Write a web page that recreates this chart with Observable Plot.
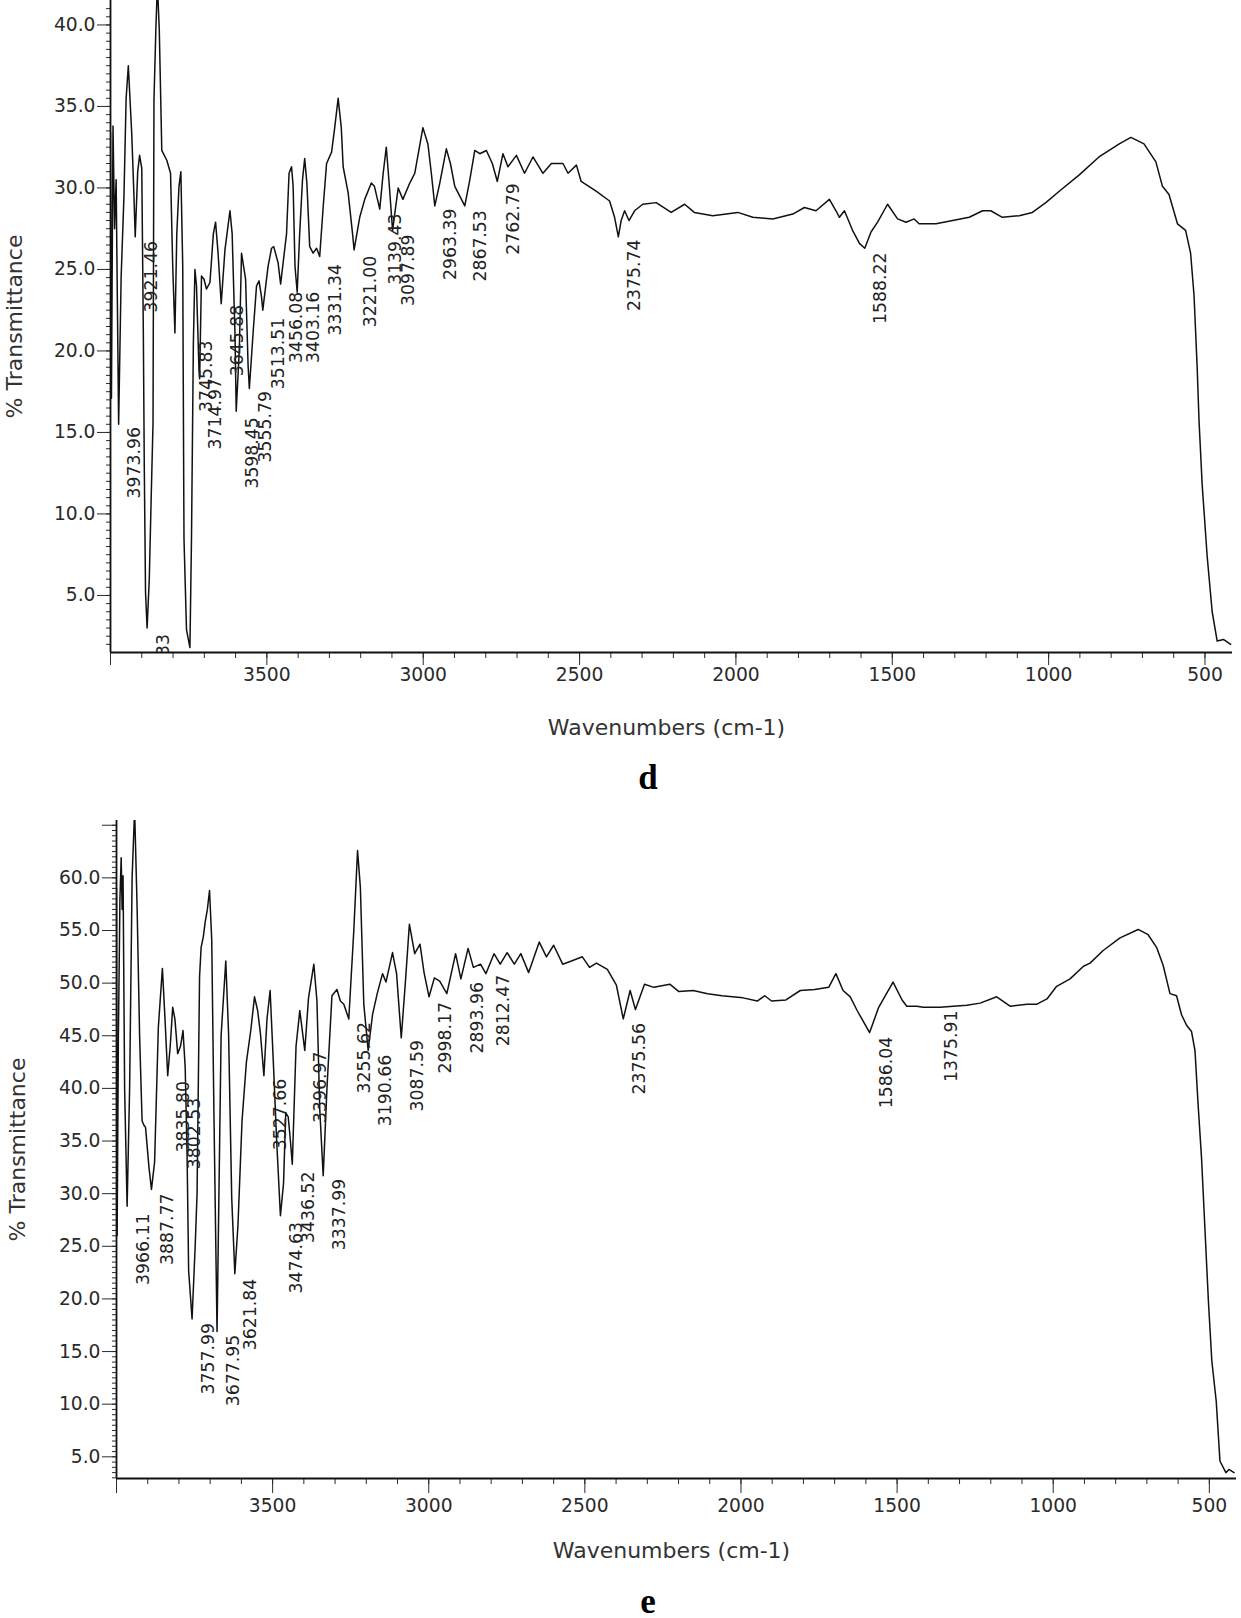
<!DOCTYPE html>
<html>
<head>
<meta charset="utf-8">
<script src="https://cdn.jsdelivr.net/npm/d3@7"></script>
<script src="https://cdn.jsdelivr.net/npm/@observablehq/plot@0.6"></script>
<style>
  html, body { margin: 0; padding: 0; background: #fff; }
  body { position: relative; width: 1241px; height: 1618px; overflow: hidden; }
  .panel { position: absolute; left: 0; }
  .tag { position: absolute; left: 598px; width: 100px; text-align: center;
         font-family: "Liberation Serif", "Times New Roman", serif; font-weight: bold;
         font-size: 35px; line-height: 28px; color: #000; }
</style>
</head>
<body>
<div id="panelD" class="panel" style="top:0px"></div>
<div class="tag" style="top:764px">d</div>
<div id="panelE" class="panel" style="top:800px"></div>
<div class="tag" style="top:1588px">e</div>
<script>
// ---------- axis ticks ----------
const xMajor = [4000, 3500, 3000, 2500, 2000, 1500, 1000, 500];
const xMinor = d3.range(500, 4000, 100);

// ---------- spectrum d ----------
const dWn = [4000,3997,3992,3987,3982,3974,3966,3957,3950,3943,3932,3925,3921,3913,3907,3900,3895,3892,3888,3883,
  3876,3870,3864,3861,3855,3850,3844,3836,3820,3808,3801,3794,3788,3781,3775,3769,3765,3757,3746,3741,
  3735,3730,3725,3717,3715,3709,3701,3693,3682,3671,3664,3656,3646,3634,3626,3618,3611,3602,3598,3588,
  3581,3568,3560,3556,3544,3533,3525,3517,3513,3496,3485,3478,3464,3456,3437,3429,3421,3416,3410,3403,
  3395,3386,3379,3372,3363,3352,3341,3331,3320,3309,3293,3283,3272,3262,3256,3240,3226,3221,3203,3187,
  3166,3156,3139,3128,3118,3109,3098,3080,3065,3043,3027,3001,2985,2974,2963,2947,2926,2913,2899,2883,
  2867,2851,2835,2819,2798,2779,2763,2745,2729,2702,2676,2649,2617,2590,2553,2537,2510,2495,2447,2404,
  2388,2376,2367,2356,2342,2324,2298,2255,2207,2164,2133,2074,1994,1946,1882,1818,1781,1744,1701,1680,
  1669,1653,1627,1605,1588,1568,1547,1515,1483,1456,1430,1414,1360,1307,1254,1211,1185,1148,1094,1052,
  1009,966,902,839,774,737,695,657,636,615,588,562,546,535,525,519,509,493,477,461,441,418];
const dT = [33.4,17.1,33.8,27.5,30.5,15.5,24.5,29.5,35.5,37.5,33.3,29.5,27.0,31.0,32.0,31.2,21.1,13.0,5.2,3.0,
  6.0,10.9,15.6,35.4,39.7,42.5,39.7,32.3,31.7,30.9,25.2,21.1,27.2,30.1,31.0,25.2,8.5,2.9,1.8,8.5,
  20.5,25.0,24.0,18.8,18.3,24.6,24.4,23.8,24.2,27.2,27.9,26.0,22.9,26.2,27.4,28.6,27.2,21.1,16.3,20.1,
  26.0,24.4,19.1,17.7,21.1,24.0,24.3,23.3,22.5,25.2,26.3,26.4,25.4,24.1,27.2,30.9,31.3,30.1,25.2,23.6,
  27.2,30.5,31.8,30.3,26.4,26.0,26.3,25.8,28.8,31.5,32.2,33.7,35.5,33.7,31.3,29.7,27.2,26.2,28.2,29.3,
  30.3,30.1,28.7,30.9,32.5,30.3,27.4,30.0,29.3,30.3,30.9,33.7,32.7,30.9,28.9,30.3,32.4,31.5,30.1,29.5,
  28.9,30.5,32.3,32.1,32.3,31.5,30.4,32.1,31.3,32.0,30.9,31.9,30.9,31.5,31.5,30.9,31.4,30.4,29.8,29.2,
  28.2,27.0,28.0,28.6,28.0,28.6,29.0,29.1,28.5,29.0,28.5,28.3,28.5,28.2,28.1,28.4,28.8,28.6,29.3,28.6,
  28.2,28.6,27.4,26.6,26.3,27.3,27.9,29.0,28.1,27.9,28.1,27.8,27.8,28.0,28.2,28.6,28.6,28.2,28.3,28.5,
  29.1,29.8,30.8,31.9,32.7,33.1,32.7,31.6,30.1,29.6,27.8,27.4,26.0,23.4,19.0,15.7,11.8,7.4,4.0,2.2,2.3,2.0];
const dLabels = ["3973.96","3921.46","3883.33","3745.83","3714.97","3645.88","3598.45","3555.79","3513.51","3456.08",
  "3403.16","3331.34","3221.00","3139.43","3097.89","2963.39","2867.53","2762.79","2375.74","1588.22"];
const dLabelT = [15.4,26.8,2.7,20.7,18.4,22.9,16.0,17.6,22.1,23.7,23.7,25.4,25.9,28.5,27.2,28.8,28.7,30.35,26.9,26.1];

// ---------- spectrum e ----------
const eWn = [4000,3998,3994,3989,3985,3982,3979,3974,3966,3958,3950,3942,3934,3926,3918,3912,3907,3896,3888,3878,
  3866,3853,3845,3836,3828,3820,3813,3804,3795,3787,3780,3774,3769,3758,3748,3742,3734,3729,3722,3716,
  3709,3702,3695,3688,3678,3665,3650,3641,3631,3621,3611,3598,3584,3570,3558,3548,3539,3528,3518,3508,
  3497,3487,3475,3465,3458,3450,3443,3437,3425,3413,3397,3385,3368,3358,3349,3338,3326,3310,3294,3283,
  3272,3256,3240,3228,3219,3208,3194,3180,3165,3148,3137,3116,3103,3088,3075,3062,3045,3028,3015,2999,
  2982,2965,2942,2914,2897,2874,2857,2834,2817,2791,2771,2749,2726,2705,2680,2646,2623,2600,2571,2543,
  2508,2485,2463,2428,2399,2377,2355,2338,2309,2279,2228,2199,2153,2107,2061,1993,1948,1924,1902,1856,
  1810,1764,1719,1696,1673,1650,1628,1588,1559,1513,1484,1469,1437,1416,1362,1320,1277,1234,1181,1137,
  1084,1052,1020,989,946,903,882,840,786,728,696,669,648,626,605,589,573,557,546,536,
  525,514,503,492,478,466,447,437,421];
const eT = [59.0,26.0,45.0,58.0,61.9,57.0,60.2,40.0,28.8,40.0,60.0,66.5,57.2,45.0,36.9,36.5,36.3,32.5,30.4,33.0,
  45.8,51.4,46.8,41.2,44.0,47.7,46.6,43.3,44.0,45.5,42.0,33.8,22.7,18.1,25.0,30.0,50.6,53.4,54.4,55.8,
  57.0,58.8,54.1,37.7,16.9,45.0,52.1,45.2,29.6,22.4,27.0,36.9,42.5,45.5,48.7,47.4,45.2,41.2,46.6,49.3,
  42.0,35.0,27.9,31.0,37.7,37.3,35.0,32.8,44.0,47.4,43.6,48.6,51.8,48.3,38.0,31.7,40.0,48.8,49.4,48.3,
  48.0,46.6,55.0,62.6,59.1,48.0,43.6,47.0,49.0,50.9,50.1,52.9,50.9,44.8,50.0,55.6,52.8,53.7,51.0,48.7,
  50.5,50.2,49.0,52.8,50.4,53.3,51.5,51.8,50.9,52.8,51.8,52.9,51.8,52.8,51.0,53.9,52.5,53.6,51.8,52.1,
  52.5,51.5,51.9,51.3,49.8,46.6,49.3,47.5,49.9,49.6,49.9,49.2,49.3,49.0,48.8,48.6,48.3,48.8,48.3,48.4,
  49.3,49.4,49.6,50.9,49.3,48.7,47.4,45.3,47.7,50.1,48.4,47.8,47.8,47.7,47.7,47.8,47.9,48.1,48.7,47.8,
  48.0,48.0,48.5,49.7,50.4,51.6,51.9,53.1,54.3,55.1,54.6,53.4,51.7,49.0,48.8,47.0,46.0,45.4,43.6,38.5,
  33.4,26.6,19.8,14.1,10.3,4.6,3.5,3.8,3.5];
const eLabels = ["3966.11","3887.77","3835.80","3802.53","3757.99","3677.95","3621.84","3527.66","3474.63","3436.52",
  "3396.97","3337.99","3255.62","3190.66","3087.59","2998.17","2893.96","2812.47","2375.56","1586.04","1375.91"];
const eLabelT = [28.2,30.1,40.8,39.2,17.8,16.7,22.0,41.0,27.4,32.2,43.6,31.5,46.4,43.3,44.7,48.3,50.2,50.9,46.3,45.0,47.5];

const xTitle = "Wavenumbers (cm-1)";
const yTitle = "% Transmittance";

function spectrum(o) {
  const rows = o.wn.map((w, i) => ({wn: w, t: o.t[i]}));
  return Plot.plot({
    width: 1241,
    height: o.height,
    marginLeft: o.marginLeft,
    marginRight: o.marginRight,
    marginTop: o.marginTop,
    marginBottom: o.marginBottom,
    style: {fontFamily: "'DejaVu Sans', Verdana, sans-serif", fontSize: "18.7px", color: "#2a2a2a", background: "transparent", overflow: "visible"},
    x: {domain: o.xDomain, label: null},
    y: {domain: o.yDomain, label: null},
    marks: [
      Plot.axisX({ticks: xMinor, tickSize: 6, tickFormat: () => "", label: null}),
      Plot.axisX({ticks: xMajor, tickSize: o.xTickSize, tickPadding: o.xTickPad,
                  tickFormat: d => d === 4000 ? "" : String(d), label: null}),
      Plot.axisY({ticks: o.yMinor, tickSize: 4, tickFormat: () => "", label: null}),
      Plot.axisY({ticks: o.yMajor, tickSize: o.yTickSize, tickPadding: 2,
                  tickFormat: d => o.yHide.includes(d) ? "" : d.toFixed(1), label: null}),
      Plot.ruleY([o.yDomain[0]], {stroke: "#111", strokeWidth: 2}),
      Plot.ruleX([o.xDomain[0]], {stroke: "#111", strokeWidth: 1.8}),
      Plot.line(rows, {x: "wn", y: "t", stroke: "#111", strokeWidth: 1.5, clip: true}),
      Plot.text(o.labels, {x: d => +d, y: (d, i) => o.labelT[i], text: d => d, rotate: -90,
                           textAnchor: "end", lineAnchor: "middle", dx: 16, dy: 1,
                           fontSize: 17.3, fill: "#222", clip: true}),
      Plot.text([xTitle], {frameAnchor: "bottom", lineAnchor: "middle", textAnchor: "middle",
                           dy: o.xTitleDy, dx: o.xTitleDx, fontSize: 22, fill: "#333"}),
      Plot.text([yTitle], {frameAnchor: "left", textAnchor: "middle", lineAnchor: "middle",
                           rotate: -90, dx: o.yTitleDx, fontSize: 22, fill: "#333"})
    ]
  });
}

document.getElementById("panelD").appendChild(spectrum({
  wn: dWn, t: dT, labels: dLabels, labelT: dLabelT,
  height: 760, marginLeft: 110, marginRight: 9, marginTop: 0, marginBottom: 108,
  xDomain: [4000, 412], yDomain: [1.5, 41.5],
  yMajor: d3.range(5, 41, 5), yMinor: d3.range(2, 41.5, 0.5), yHide: [],
  xTickSize: 13, xTickPad: 2, yTickSize: 13,
  xTitleDy: 75, xTitleDx: -5, yTitleDx: -96
}));

document.getElementById("panelE").appendChild(spectrum({
  wn: eWn, t: eT, labels: eLabels, labelT: eLabelT,
  height: 760, marginLeft: 116, marginRight: 5, marginTop: 20, marginBottom: 82,
  xDomain: [4000, 413], yDomain: [2.94, 65.45],
  yMajor: d3.range(5, 66, 5), yMinor: d3.range(3, 65.5, 0.5), yHide: [65],
  xTickSize: 15, xTickPad: 5, yTickSize: 14,
  xTitleDy: 72, xTitleDx: -5, yTitleDx: -99
}));
</script>
</body>
</html>
